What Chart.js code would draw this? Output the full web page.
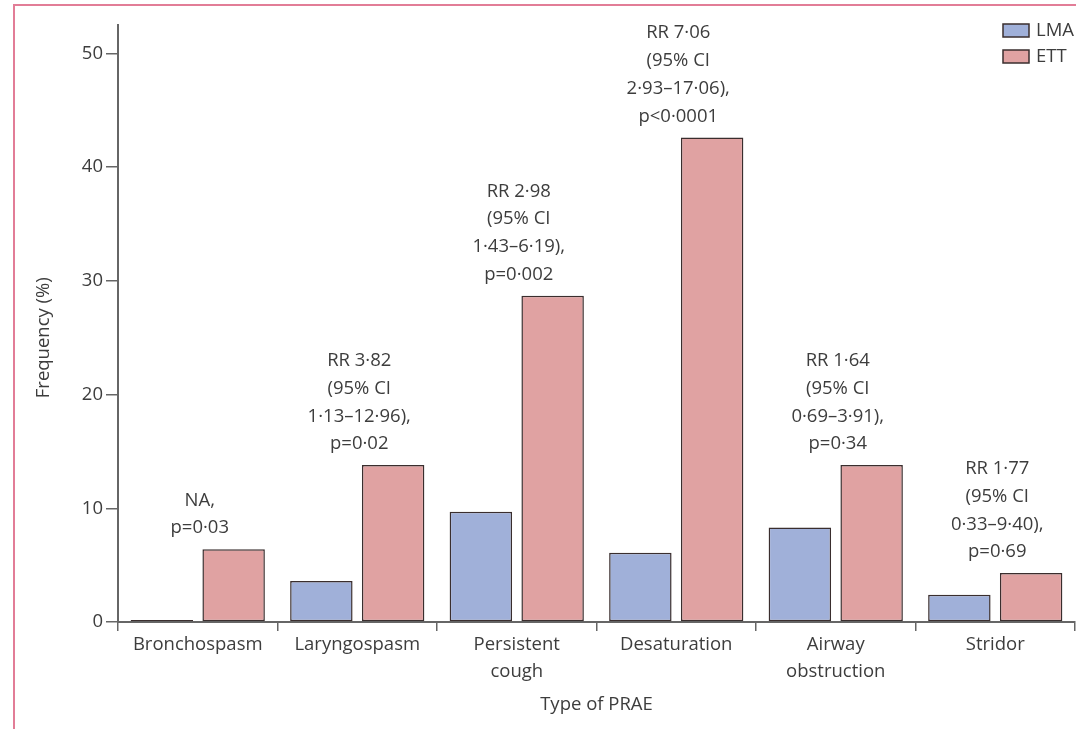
<!DOCTYPE html>
<html>
<head>
<meta charset="utf-8">
<script src="https://cdn.jsdelivr.net/npm/chart.js@4"></script>
<style>
  html, body { margin: 0; padding: 0; background: #fff; }
  #wrap { position: relative; width: 1076px; height: 729px; overflow: hidden; }
  #frame { position: absolute; left: 13px; top: 4px; right: -4px; bottom: -4px;
           border-top: 2px solid #e27d97; border-left: 2px solid #e27d97; }
  canvas { position: absolute; left: 0; top: 0; }
</style>
</head>
<body>
<div id="wrap">
  <div id="frame"></div>
  <canvas id="prae" width="1076" height="729"></canvas>
</div>
<script>
// ─── Data ───────────────────────────────────────
const categories = ['Bronchospasm', 'Laryngospasm', ['Persistent', 'cough'], 'Desaturation', ['Airway', 'obstruction'], 'Stridor'];
const lmaValues = [0, 3.6, 9.7, 6.1, 8.3, 2.4];
const ettValues = [6.4, 13.8, 28.7, 42.6, 13.8, 4.3];
const yTicks = [0, 10, 20, 30, 40, 50];
const notes = [
  ['NA,', 'p=0·03'],
  ['RR 3·82', '(95% CI', '1·13–12·96),', 'p=0·02'],
  ['RR 2·98', '(95% CI', '1·43–6·19),', 'p=0·002'],
  ['RR 7·06', '(95% CI', '2·93–17·06),', 'p<0·0001'],
  ['RR 1·64', '(95% CI', '0·69–3·91),', 'p=0·34'],
  ['RR 1·77', '(95% CI', '0·33–9·40),', 'p=0·69']
];

const LMA = '#a0b0d9';
const ETT = '#e0a2a2';
const EDGE = '#3a2e2e';
const TEXT = '#3d3d3d';
const AXIS = '#666666';
const FONT = "'Open Sans', sans-serif";
const FSIZE = 18.5;

// annotations above each group + y title + legend
const extrasPlugin = {
  id: 'extras',
  afterDraw(chart) {
    const { ctx, scales: { x, y } } = chart;
    ctx.save();
    ctx.fillStyle = TEXT;
    ctx.font = `${FSIZE}px ${FONT}`;
    ctx.textAlign = 'center';
    ctx.textBaseline = 'middle';
    notes.forEach((lines, i) => {
      const cx = x.getPixelForValue(i) + 2;
      const top = y.getPixelForValue(ettValues[i]);
      const lh = 27.8;
      lines.forEach((t, j) => {
        ctx.fillText(t, cx, top - 21 - (lines.length - 1 - j) * lh);
      });
    });

    // y axis title
    ctx.save();
    ctx.translate(44, (y.getPixelForValue(0) + y.getPixelForValue(50)) / 2);
    ctx.rotate(-Math.PI / 2);
    ctx.fillText('Frequency (%)', 0, 0);
    ctx.restore();

    // legend
    ctx.textAlign = 'left';
    chart.data.datasets.forEach((ds, i) => {
      const bx = 1003, by = 24 + i * 26;
      ctx.fillStyle = ds.backgroundColor;
      ctx.fillRect(bx, by, 26, 13);
      ctx.strokeStyle = EDGE;
      ctx.lineWidth = 1.5;
      ctx.strokeRect(bx, by, 26, 13);
      ctx.fillStyle = TEXT;
      ctx.fillText(ds.label, bx + 33, by + 7);
    });
    ctx.restore();
  }
};

new Chart(document.getElementById('prae'), {
  type: 'bar',
  data: {
    labels: categories,
    datasets: [
      {
        label: 'LMA',
        data: lmaValues,
        backgroundColor: LMA,
        borderColor: EDGE,
        borderWidth: 1.5,
        borderSkipped: false,
        minBarLength: 2,
        categoryPercentage: 0.9,
        barPercentage: 0.87
      },
      {
        label: 'ETT',
        data: ettValues,
        backgroundColor: ETT,
        borderColor: EDGE,
        borderWidth: 1.5,
        borderSkipped: false,
        categoryPercentage: 0.9,
        barPercentage: 0.87
      }
    ]
  },
  options: {
    responsive: false,
    animation: false,
    layout: { padding: { top: 25, right: 1, left: 0, bottom: 0 } },
    plugins: {
      legend: { display: false },
      tooltip: { enabled: false }
    },
    scales: {
      x: {
        afterFit: s => { s.height = 107; },
        grid: { display: true, drawOnChartArea: false, offset: true, tickLength: 9, color: AXIS, lineWidth: 1.5 },
        border: { display: true, color: AXIS, width: 2 },
        ticks: { color: TEXT, font: { family: FONT, size: FSIZE, lineHeight: 1.45 }, padding: 0, maxRotation: 0, autoSkip: false },
        title: { display: true, text: 'Type of PRAE', color: TEXT, font: { family: FONT, size: FSIZE }, padding: { bottom: 13 } }
      },
      y: {
        min: 0,
        max: 52.5,
        afterFit: s => { s.width = 118; },
        afterBuildTicks: s => { s.ticks = yTicks.map(v => ({ value: v })); },
        grid: { display: true, drawOnChartArea: false, tickLength: 12, color: AXIS, lineWidth: 1.5 },
        border: { display: true, color: AXIS, width: 2 },
        ticks: { color: TEXT, font: { family: FONT, size: FSIZE }, padding: 3 }
      }
    }
  },
  plugins: [extrasPlugin]
});
</script>
</body>
</html>
